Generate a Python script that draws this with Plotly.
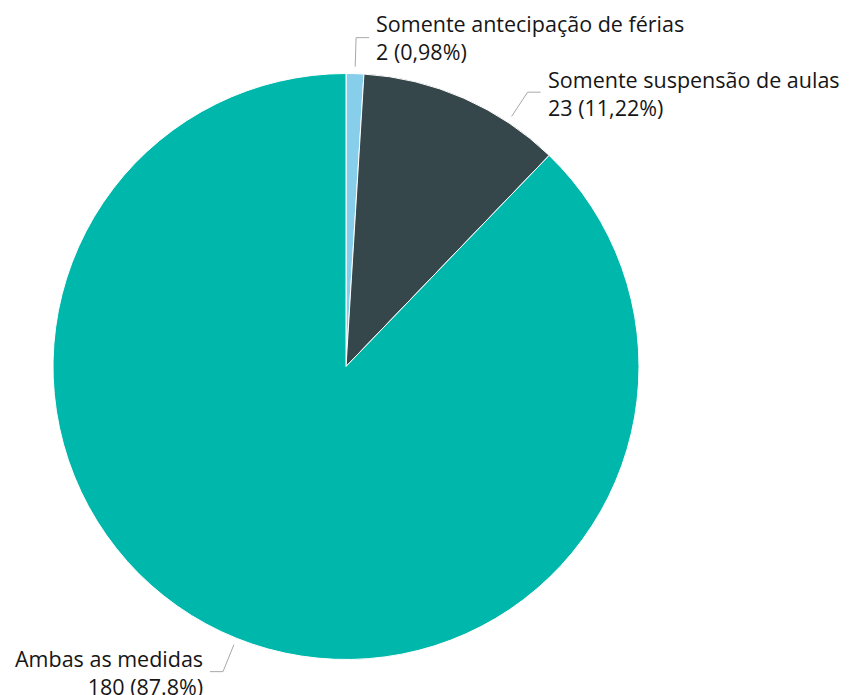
import math
import plotly.graph_objects as go

# ---- data ----
labels = ["Somente antecipação de férias", "Somente suspensão de aulas", "Ambas as medidas"]
values = [2, 23, 180]
pct_text = ["0,98%", "11,22%", "87.8%"]

# ---- style / layout constants ----
colors = ["#87CEEB", "#36474B", "#00B7AB"]
W, H = 851, 695                       # page size
OFF = 8                               # default body margin of the page
FW, FH = W - OFF, H - OFF             # figure size
CX, CY, R = 346, 366.5, 293           # pie centre & radius in page px
label_angle_shift = [0, 9.8, 0]       # degrees, to avoid label overlap
label_y_shift = [0, 1, 1]             # px, vertical nudge of label block
SEG1, SEG2, GAP0, TXT_GAP = 29, 13, 7, 6
FONT = dict(family="'Open Sans', 'DejaVu Sans', sans-serif", size=21.5, color="#161616")


def to_paper(x, y):
    return ((x - OFF) / FW, 1 - (y - OFF) / FH)


x0p, y1p = to_paper(CX - R, CY - R)
x1p, y0p = to_paper(CX + R, CY + R)

fig = go.Figure(go.Pie(
    labels=labels,
    values=values,
    sort=False,
    direction="clockwise",
    rotation=0,
    textinfo="none",
    hoverinfo="label+value+percent",
    marker=dict(colors=colors, line=dict(color="white", width=1)),
    domain=dict(x=[x0p, x1p], y=[y0p, y1p]),
    showlegend=False,
))

total = sum(values)
shapes, annotations = [], []
cum = 0.0
for lab, v, pt, shift, ysh in zip(labels, values, pct_text, label_angle_shift, label_y_shift):
    mid = (cum + v / 2) / total * 360 + shift
    cum += v
    s, c = math.sin(math.radians(mid)), math.cos(math.radians(mid))
    p0 = (CX + (R + GAP0) * s, CY - (R + GAP0) * c)
    p1 = (CX + (R + GAP0 + SEG1) * s, CY - (R + GAP0 + SEG1) * c)
    side = 1 if s >= 0 else -1
    p2 = (p1[0] + side * SEG2, p1[1])
    a, b, d = to_paper(*p0), to_paper(*p1), to_paper(*p2)
    shapes.append(dict(
        type="path", xref="paper", yref="paper",
        path=f"M {a[0]},{a[1]} L {b[0]},{b[1]} L {d[0]},{d[1]}",
        line=dict(color="#A8A8A8", width=1),
    ))
    tx, ty = to_paper(p2[0] + side * TXT_GAP, p2[1] + ysh)
    annotations.append(dict(
        x=tx, y=ty, xref="paper", yref="paper",
        text=f"{lab}<br>{v} ({pt})",
        showarrow=False,
        xanchor="left" if side > 0 else "right",
        yanchor="middle",
        align="left" if side > 0 else "right",
        borderpad=0,
        font=FONT,
    ))

fig.update_layout(
    width=FW, height=FH,
    margin=dict(l=0, r=0, t=0, b=0),
    paper_bgcolor="white",
    plot_bgcolor="white",
    shapes=shapes,
    annotations=annotations,
)

fig.write_html("out.html")
